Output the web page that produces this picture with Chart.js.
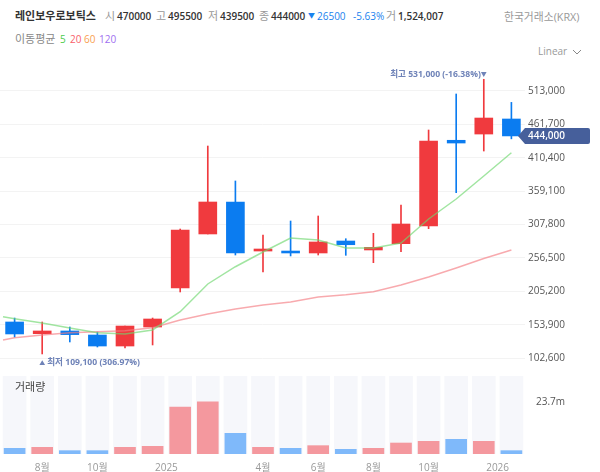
<!DOCTYPE html>
<html lang="ko">
<head>
<meta charset="utf-8">
<title>레인보우로보틱스</title>
<script src="https://cdn.jsdelivr.net/npm/chart.js@4"></script>
<style>
  html, body { margin: 0; padding: 0; background: #fff; }
  body { width: 600px; height: 472px; position: relative; overflow: hidden;
         font-family: "Open Sans", "Noto Sans CJK KR", sans-serif; font-size: 10px; color: #333; }
  canvas { position: absolute; left: 0; }
  #price { top: 60px; }
  #volume { top: 370px; }
  .t { position: absolute; white-space: nowrap; line-height: 14px; }
  .g { color: #999; }
  .b { font-weight: 600; color: #333; }
  .up { color: #1a82ee; }
</style>
</head>
<body>
<span class="t" style="left:15px;top:9px;font-weight:700;font-size:11px">레인보우로보틱스</span>
<span class="t g" style="left:105px;top:9px;font-size:11px">시</span><span class="t b" style="left:117px;top:9px">470000</span>
<span class="t g" style="left:156px;top:9px;font-size:11px">고</span><span class="t b" style="left:168px;top:9px">495500</span>
<span class="t g" style="left:208px;top:9px;font-size:11px">저</span><span class="t b" style="left:220px;top:9px">439500</span>
<span class="t g" style="left:259px;top:9px;font-size:11px">종</span><span class="t b" style="left:271px;top:9px">444000</span>
<span class="t up" style="left:308px;top:9px;font-size:7px">▼</span>
<span class="t up" style="left:317px;top:9px">26500</span><span class="t up" style="left:353px;top:9px">-5.63%</span>
<span class="t g" style="left:386px;top:9px;font-size:11px">거</span><span class="t b" style="left:398px;top:9px">1,524,007</span>
<span class="t g" style="left:504px;top:10px;font-size:10.8px">한국거래소(KRX)</span>
<span class="t" style="left:15px;top:32px;color:#888;font-size:11px">이동평균</span>
<span class="t" style="left:60px;top:32px;color:#4ccc4c">5</span>
<span class="t" style="left:70px;top:32px;color:#f8606a">20</span>
<span class="t" style="left:84px;top:32px;color:#f9a050">60</span>
<span class="t" style="left:99px;top:32px;color:#a070f0">120</span>
<span class="t g" style="left:538px;top:44px">Linear</span>
<svg style="position:absolute;left:572px;top:49px" width="10" height="6"><path d="M1 1 L5 5 L9 1" fill="none" stroke="#888" stroke-width="1"/></svg>
<canvas id="price" width="600" height="315"></canvas>
<canvas id="volume" width="600" height="102"></canvas>
<span class="t" style="left:15px;top:380px;color:#444;font-size:11px">거래량</span>
<script>
const opens  = [158200, 140200, 144400, 138200, 121300, 150500, 210400, 293400, 342500, 267200, 267200, 264200, 282600, 268800, 278500, 305600, 437300, 446900, 470000];
const highs  = [164300, 158200, 150500, 142800, 152000, 164300, 301000, 428500, 374800, 291800, 313300, 321000, 286100, 294400, 337900, 453100, 508400, 531000, 495500];
const lows   = [135100, 109100, 127500, 119800, 118200, 122900, 204300, 293400, 261100, 235000, 259600, 261100, 260600, 249300, 266200, 301500, 356800, 420800, 439500];
const closes = [139800, 144400, 138800, 121300, 152000, 162800, 299500, 342500, 264200, 270300, 264200, 281100, 276900, 272900, 308700, 436200, 433100, 471500, 444000];
const volumes = [2.58, 3.04, 1.52, 1.52, 3.04, 3.5, 21.3, 23.7, 9.4, 3.04, 2.58, 3.8, 2.13, 2.58, 5.0, 5.78, 6.69, 5.78, 1.52];

// moving averages start a little left of the first candle
const maPositions = [-0.42, 0, 1, 2, 3, 4, 5, 6, 7, 8, 9, 10, 11, 12, 13, 14, 15, 16, 17, 18];
const ma5  = [166300, 163300, 156600, 149000, 141700, 139800, 145900, 174000, 216600, 243100, 265700, 287200, 284100, 271800, 271800, 279500, 316400, 347100, 382400, 418200];
const ma20 = [130500, 134100, 138200, 141700, 143300, 144800, 149400, 161300, 170500, 178200, 184300, 188900, 196600, 200100, 204700, 215000, 227300, 241100, 255700, 268800];

const priceTicks = [513000, 461700, 410400, 359100, 307800, 256500, 205200, 153900, 102600];
const volumeTicks = [23.7];
const monthPositions = [1, 3, 5.5, 9, 11, 13, 15, 17.5];
const monthLabels = ['8월', '10월', '2025', '4월', '6월', '8월', '10월', '2026'];

const RED = '#f03a3e', BLUE = '#0b7cf0';
const VOL_RED = '#f4989e', VOL_BLUE = '#7fb9fa';
const FONT = '"Open Sans", "Noto Sans CJK KR", sans-serif';
const xMin = -0.529, xMax = 18.493;
const slots = opens.map((_, i) => i);
const isUp = i => closes[i] >= opens[i];

function noEdgePadding(scale) {
  scale.paddingTop = scale.paddingBottom = scale.paddingLeft = scale.paddingRight = 0;
}

// labels and the last-price tag are tied to the price scale
const priceMarks = {
  id: 'priceMarks',
  afterDatasetsDraw(chart) {
    const { ctx, scales: { x, y } } = chart;
    const hi = Math.max(...highs), lo = Math.min(...lows), last = closes[closes.length - 1];
    ctx.save();
    ctx.font = '700 8.6px ' + FONT;
    ctx.fillStyle = '#6f83b8';
    ctx.textBaseline = 'middle';
    ctx.textAlign = 'right';
    ctx.fillText('최고 531,000 (-16.38%)', x.getPixelForValue(highs.indexOf(hi)) - 3, y.getPixelForValue(hi) - 5);
    ctx.textAlign = 'left';
    ctx.fillText('최저 109,100 (306.97%)', x.getPixelForValue(lows.indexOf(lo)) + 5, y.getPixelForValue(lo) + 9);
    ctx.font = '700 6px ' + FONT;
    ctx.fillText('▼', x.getPixelForValue(highs.indexOf(hi)) - 3, y.getPixelForValue(hi) - 5);
    ctx.fillText('▲', x.getPixelForValue(lows.indexOf(lo)) - 3, y.getPixelForValue(lo) + 9);

    const py = y.getPixelForValue(last);
    ctx.fillStyle = '#465f9b';
    ctx.beginPath();
    ctx.moveTo(518, py);
    ctx.lineTo(525, py - 8);
    ctx.lineTo(588, py - 8);
    ctx.quadraticCurveTo(590, py - 8, 590, py - 6);
    ctx.lineTo(590, py + 6);
    ctx.quadraticCurveTo(590, py + 8, 588, py + 8);
    ctx.lineTo(525, py + 8);
    ctx.closePath();
    ctx.fill();
    ctx.fillStyle = '#fff';
    ctx.font = '600 10px ' + FONT;
    ctx.textAlign = 'left';
    ctx.fillText('444,000', 528, py);
    ctx.restore();
  }
};

new Chart(document.getElementById('price').getContext('2d'), {
  type: 'bar',
  data: {
    datasets: [
      { type: 'line', data: ma5.map((v, i) => ({ x: maPositions[i], y: v })), borderColor: 'rgba(110,215,110,0.65)', borderWidth: 1.5, pointRadius: 0, tension: 0, order: 0 },
      { type: 'line', data: ma20.map((v, i) => ({ x: maPositions[i], y: v })), borderColor: 'rgba(245,125,130,0.65)', borderWidth: 1.5, pointRadius: 0, tension: 0, order: 0 },
      { data: slots.map(i => ({ x: i, y: [opens[i], closes[i]] })), grouped: false, barThickness: 18,
        backgroundColor: slots.map(i => isUp(i) ? RED : BLUE), order: 1 },
      { data: slots.map(i => ({ x: i, y: [lows[i], highs[i]] })), grouped: false, barThickness: 1,
        backgroundColor: slots.map(i => isUp(i) ? RED : BLUE), order: 2 }
    ]
  },
  options: {
    responsive: false,
    animation: false,
    layout: { padding: 0 },
    plugins: { legend: { display: false }, tooltip: { enabled: false } },
    scales: {
      x: { type: 'linear', display: false, offset: false, min: xMin, max: xMax },
      y: {
        position: 'right',
        min: 76776,
        max: 560616,
        afterBuildTicks(scale) { scale.ticks = priceTicks.map(value => ({ value })); },
        afterFit(scale) { scale.width = 75; noEdgePadding(scale); },
        grid: { color: '#f3f3f3', drawTicks: false },
        border: { display: false },
        ticks: { padding: 3, color: '#555', font: { size: 10, family: FONT }, callback: v => v.toLocaleString('en-US') }
      }
    }
  },
  plugins: [priceMarks]
});

new Chart(document.getElementById('volume').getContext('2d'), {
  type: 'bar',
  data: {
    datasets: [
      { data: slots.map(i => ({ x: i, y: volumes[i] })), grouped: false, barThickness: 21,
        backgroundColor: slots.map(i => isUp(i) ? VOL_RED : VOL_BLUE), order: 1 },
      { data: slots.map(i => ({ x: i, y: 35.5 })), grouped: false, barThickness: 23,
        backgroundColor: '#f6f7fb', order: 2 }
    ]
  },
  options: {
    responsive: false,
    animation: false,
    layout: { padding: { top: 6 } },
    plugins: { legend: { display: false }, tooltip: { enabled: false } },
    scales: {
      x: {
        type: 'linear',
        offset: false,
        min: xMin,
        max: xMax,
        afterBuildTicks(scale) { scale.ticks = monthPositions.map(value => ({ value })); },
        afterFit(scale) { scale.height = 18; noEdgePadding(scale); },
        grid: { display: false },
        border: { display: false },
        ticks: { autoSkip: false, maxRotation: 0, padding: 0, color: '#999', font: { size: 10, family: FONT },
                 callback: (v, i) => monthLabels[i] }
      },
      y: {
        position: 'right',
        min: 0,
        max: 35.5,
        afterBuildTicks(scale) { scale.ticks = volumeTicks.map(value => ({ value })); },
        afterFit(scale) { scale.width = 75; noEdgePadding(scale); },
        grid: { display: false },
        border: { display: false },
        ticks: { padding: 3, color: '#555', font: { size: 10, family: FONT }, callback: v => v + 'm' }
      }
    }
  }
});
</script>
</body>
</html>
